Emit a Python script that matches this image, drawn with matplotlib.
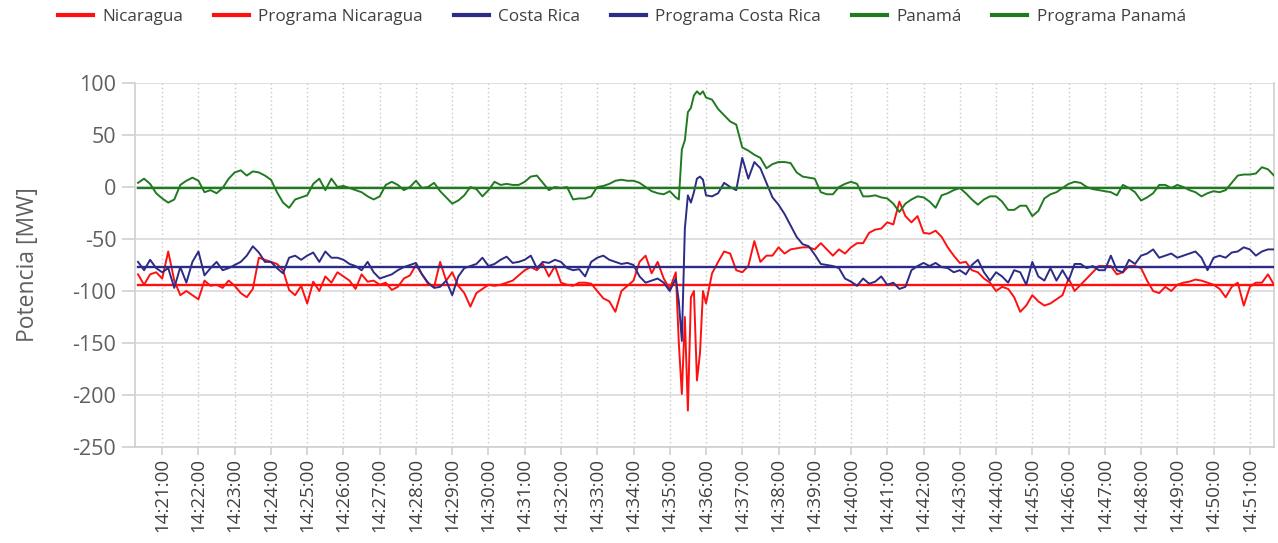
import numpy as np
import matplotlib
matplotlib.use("Agg")
import matplotlib.pyplot as plt

plt.rcParams['font.family'] = ['Open Sans', 'DejaVu Sans']
plt.rcParams['axes.unicode_minus'] = False

# seconds after 14:20:00, one sample every 10 s (14:20:20 .. 14:51:40)
t_base = np.arange(20, 1901, 10)

# Nicaragua flow [MW], one row per minute
nicaragua = [
    -84, -94, -84, -82,
    -88, -62, -90, -104, -100, -104,
    -108, -90, -95, -94, -97, -90,
    -95, -102, -106, -98, -68, -70,
    -72, -74, -80, -99, -104, -95,
    -112, -91, -100, -86, -92, -82,
    -86, -90, -98, -84, -91, -90,
    -94, -92, -99, -96, -88, -85,
    -75, -84, -93, -96, -72, -90,
    -82, -95, -102, -115, -102, -98,
    -94, -95, -94, -92, -90, -85,
    -80, -77, -80, -74, -86, -76,
    -92, -94, -95, -92, -92, -93,
    -100, -107, -110, -120, -100, -95,
    -90, -72, -66, -83, -72, -88,
    -98, -82, -199, -220, -100, -180,
    -110, -83, -72, -62, -64, -80,
    -82, -76, -52, -72, -66, -66,
    -58, -64, -60, -59, -58, -58,
    -60, -54, -60, -66, -60, -64,
    -58, -54, -54, -44, -41, -40,
    -34, -36, -14, -28, -34, -28,
    -44, -45, -42, -48, -58, -66,
    -73, -72, -80, -82, -88, -92,
    -100, -96, -98, -106, -120, -114,
    -104, -110, -114, -112, -108, -104,
    -88, -100, -94, -88, -82, -76,
    -76, -76, -84, -82, -76, -76,
    -78, -90, -100, -102, -96, -100,
    -94, -92, -91, -89, -90, -92,
    -94, -98, -106, -96, -92, -114,
    -96, -92, -92, -84, -94,
]

costa_rica = [
    -72, -80, -70, -78,
    -82, -78, -97, -77, -92, -72,
    -62, -85, -78, -72, -80, -78,
    -75, -72, -66, -57, -63, -72,
    -72, -78, -83, -68, -66, -70,
    -66, -63, -72, -62, -68, -68,
    -70, -74, -76, -80, -72, -82,
    -88, -86, -84, -80, -77, -75,
    -73, -84, -92, -97, -96, -90,
    -104, -86, -78, -76, -74, -68,
    -76, -74, -70, -67, -73, -72,
    -70, -66, -78, -72, -73, -70,
    -72, -78, -80, -79, -86, -72,
    -68, -66, -70, -72, -74, -73,
    -75, -86, -92, -90, -88, -92,
    -100, -90, -150, -10, -5, 10,
    -6, -9, -6, 4, 0, -3,
    28, 8, 24, 18, 4, -10,
    -17, -26, -37, -48, -55, -57,
    -65, -74, -75, -76, -78, -88,
    -91, -95, -88, -93, -91, -86,
    -94, -92, -98, -96, -80, -76,
    -73, -76, -73, -77, -78, -82,
    -80, -84, -75, -70, -82, -90,
    -82, -86, -92, -80, -82, -94,
    -72, -86, -90, -78, -90, -80,
    -90, -74, -74, -78, -76, -80,
    -80, -66, -80, -82, -70, -74,
    -66, -64, -60, -68, -66, -64,
    -68, -66, -64, -62, -68, -80,
    -68, -66, -68, -63, -62, -58,
    -60, -66, -62, -60, -60,
]

panama = [
    4, 8, 3, -6,
    -11, -15, -12, 2, 6, 9,
    6, -5, -3, -6, -1, 8,
    14, 16, 11, 15, 14, 11,
    7, -5, -15, -20, -12, -10,
    -8, 3, 8, -3, 8, 0,
    1, -1, -3, -5, -9, -12,
    -9, 2, 5, 2, -3, 0,
    6, -1, 0, 4, -4, -10,
    -16, -13, -8, 0, -2, -9,
    -3, 5, 2, 3, 2, 2,
    5, 10, 11, 4, -3, 0,
    -1, 0, -12, -11, -11, -9,
    0, 1, 3, 6, 7, 6,
    6, 4, 0, -4, -6, -7,
    -4, -10, 33, 72, 78, 90,
    91, 84, 75, 69, 63, 60,
    38, 35, 31, 28, 18, 22,
    24, 24, 23, 14, 10, 9,
    8, -5, -7, -7, 0, 3,
    5, 3, -9, -9, -8, -10,
    -11, -16, -24, -16, -12, -9,
    -10, -14, -20, -8, -6, -3,
    -1, -6, -12, -17, -12, -9,
    -9, -14, -22, -22, -18, -18,
    -28, -23, -11, -7, -5, -1,
    3, 5, 4, 0, -2, -3,
    -4, -5, -8, 2, -1, -5,
    -13, -10, -6, 2, 2, -1,
    2, 0, -3, -5, -9, -6,
    -4, -5, -3, 4, 11, 12,
    12, 13, 19, 17, 11,
]

# finer samples for the disturbance 14:35:10 .. 14:36:00 (every 5 s)
t_event = np.arange(910, 961, 5)
nicaragua_event = [-82, -150, -199, -125, -215, -106, -100, -186, -160, -100, -112]
costa_rica_event = [-88, -110, -148, -40, -8, -15, -5, 8, 10, 7, -8]
panama_event = [-10, -12, 36, 45, 72, 76, 88, 92, 89, 92, 86]

# scheduled exchange (programa)
prog_nicaragua = -94
prog_costa_rica = -77
prog_panama = -1

minute_ticks = list(range(21, 52))
tick_labels = [f"14:{m}:00" for m in minute_ticks]


def merge(base_vals, event_vals):
    keep = (t_base < 910) | (t_base > 960)
    tt = np.concatenate([t_base[keep], t_event])
    vv = np.concatenate([np.array(base_vals)[keep], event_vals])
    order = np.argsort(tt)
    return tt[order], vv[order]


red = '#ff1010'
navy = '#2c2c86'
green = '#217a21'

fig = plt.figure(figsize=(12.78, 5.43), dpi=100)
ax = fig.add_axes([135 / 1278, 1 - 447 / 543, 1139 / 1278, 364 / 543])

t_nic, v_nic = merge(nicaragua, nicaragua_event)
t_cr, v_cr = merge(costa_rica, costa_rica_event)
t_pan, v_pan = merge(panama, panama_event)

ax.plot(t_nic, v_nic, color=red, lw=1.4, label='Nicaragua', zorder=3)
ax.plot([t_base[0], t_base[-1]], [prog_nicaragua] * 2, color=red, lw=1.7,
        label='Programa Nicaragua', zorder=3)
ax.plot(t_cr, v_cr, color=navy, lw=1.4, label='Costa Rica', zorder=3)
ax.plot([t_base[0], t_base[-1]], [prog_costa_rica] * 2, color=navy, lw=1.7,
        label='Programa Costa Rica', zorder=3)
ax.plot(t_pan, v_pan, color=green, lw=1.4, label='Panamá', zorder=3)
ax.plot([t_base[0], t_base[-1]], [prog_panama] * 2, color=green, lw=1.7,
        label='Programa Panamá', zorder=3)

ax.set_xlim(15, 1900)
ax.set_ylim(-250, 100)
ax.set_yticks(np.arange(-250, 101, 50))
ax.set_xticks([60 * (m - 20) for m in minute_ticks])
ax.set_xticklabels(tick_labels, rotation=90)

ax.grid(axis='y', color='#d9d9d9', lw=1.2)
ax.grid(axis='x', color='#c8c8c8', lw=1, linestyle=(0, (1, 2)))
ax.set_axisbelow(True)

for side in ['left', 'bottom', 'right']:
    ax.spines[side].set_color('#d0d0d0')
    ax.spines[side].set_linewidth(1.2)
ax.spines['top'].set_visible(False)

ax.tick_params(axis='y', length=9.5, width=1.2, color='#d0d0d0', pad=4,
               labelsize=15.5, labelcolor='#606060')
ax.tick_params(axis='x', length=6, width=1.2, color='#d0d0d0', pad=2,
               labelsize=13.5, labelcolor='#404040')

ax.set_ylabel('Potencia [MW]', fontsize=16.5, color='#606060')
ax.yaxis.set_label_coords(-0.083, 0.5)

leg = fig.legend(loc='center', bbox_to_anchor=(622 / 1278, 1 - 17 / 543), ncol=6,
                 frameon=False, fontsize=12.3, handlelength=2.05, handletextpad=0.55,
                 columnspacing=1.8, labelcolor='#404040')
for line in leg.get_lines():
    line.set_linewidth(3)

fig.savefig('out.png', dpi=100)
